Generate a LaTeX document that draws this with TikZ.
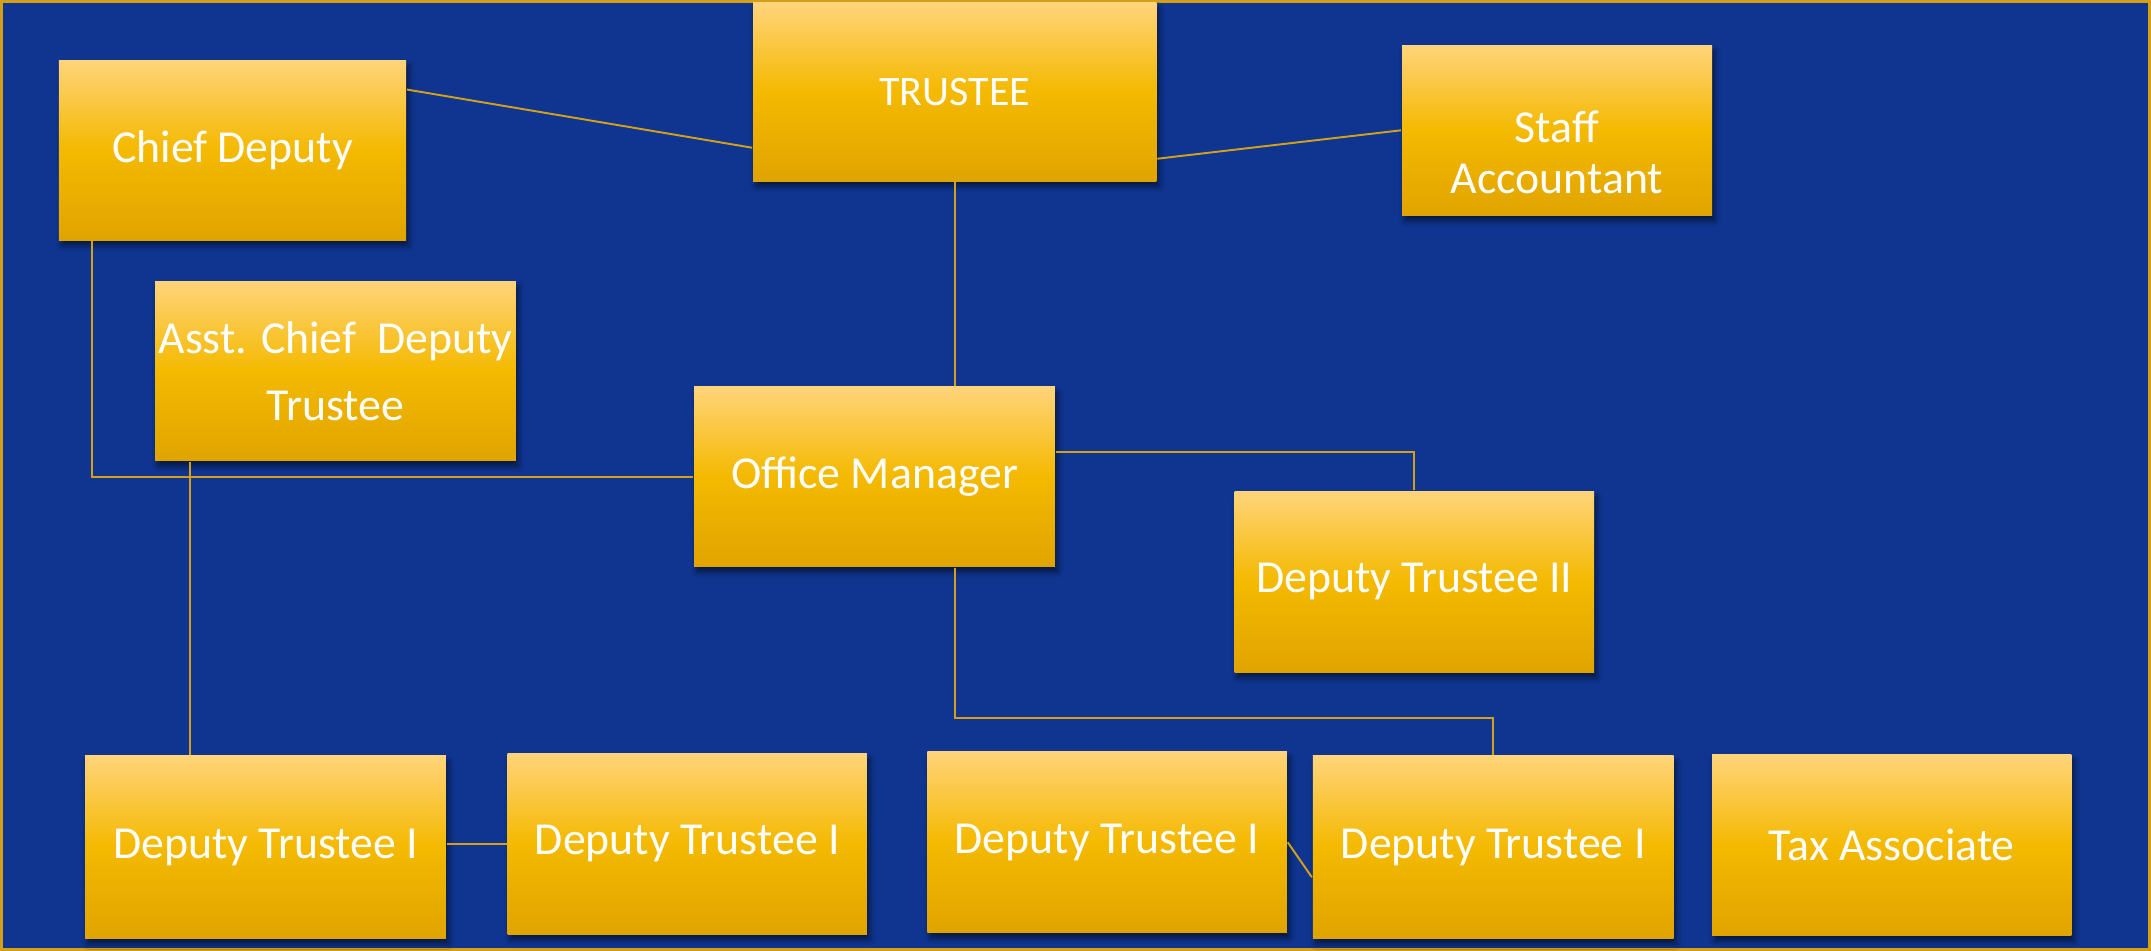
\documentclass[tikz,border=0pt]{standalone}
\usepackage{fontspec}
\setmainfont{Carlito}
\usetikzlibrary{calc,shadows.blur}
\definecolor{bgblue}{RGB}{15,53,144}
\definecolor{linegold}{RGB}{212,160,24}
\definecolor{boxtop}{RGB}{255,212,122}
\definecolor{boxmid}{RGB}{244,185,0}
\definecolor{boxbot}{RGB}{224,164,0}
\tikzset{
  post/.style={rectangle, inner sep=0pt, align=center, text=white,
    top color=boxtop, bottom color=boxbot, middle color=boxmid,
    font=\fontsize{9.5}{11}\selectfont,
    blur shadow={shadow xshift=0.2mm, shadow yshift=-0.4mm, shadow blur radius=0.4mm, shadow opacity=55}},
  link/.style={linegold, line width=0.4pt}
}
\begin{document}
\begin{tikzpicture}[x=0.1mm, y=-0.1mm]
  \useasboundingbox (0,0) rectangle (1568,693);
  \fill[bgblue] (0,0) rectangle (1568,693);
  \draw[linegold, line width=0.6pt] (1,1) rectangle (1567,692);

  % boxes
  \node[post, minimum width=29.4mm, minimum height=13mm, font=\fontsize{8.7}{10}\selectfont] (trustee) at (696,67) {TRUSTEE};
  \node[post, minimum width=25.3mm, minimum height=13.1mm] (chief) at (169.5,109.5) {Chief Deputy};
  \node[post, minimum width=22.6mm, minimum height=12.4mm, font=\fontsize{9.5}{10.5}\selectfont] (staff) at (1135,95)
    {\raisebox{-2.8mm}[0pt][0pt]{\begin{tabular}{@{}c@{}}Staff\\Accountant\end{tabular}}};
  \node[post, minimum width=26.3mm, minimum height=13.1mm, font=\fontsize{9.5}{13.9}\selectfont] (asst) at (244.5,270.5) {Asst. Chief\ \ Deputy\\Trustee};
  \node[post, minimum width=26.3mm, minimum height=13.1mm] (office) at (637.5,347.5) {Office Manager};
  \node[post, minimum width=26.2mm, minimum height=13.2mm] (dt2) at (1031,424) {Deputy Trustee II};
  \node[post, minimum width=26.3mm, minimum height=13.3mm] (dta) at (193.5,617.5) {Deputy Trustee I};
  \node[post, minimum width=26.2mm, minimum height=13.2mm] (dtb) at (501,615) {Deputy Trustee I};
  \node[post, minimum width=26.2mm, minimum height=13.2mm] (dtc) at (807,614) {Deputy Trustee I};
  \node[post, minimum width=26.3mm, minimum height=13.3mm] (dtd) at (1088.5,617.5) {Deputy Trustee I};
  \node[post, minimum width=26.2mm, minimum height=13.2mm] (tax) at (1379,616) {Tax Associate};

  % connectors
  \draw[link] ($(chief.north east)+(0,22)$) -- ($(trustee.south west)+(0,-25)$);
  \draw[link] ($(trustee.south east)+(0,-17)$) -- (staff.west);
  \draw[link] (trustee.south) -- (trustee.south |- office.north);
  \draw[link] ($(chief.south west)+(25,0)$) |- (office.west);
  \draw[link] ($(asst.south west)+(26,0)$) -- ($(dta.north west)+(77,0)$);
  \draw[link] ($(office.north east)+(0,48)$) -| (dt2.north);
  \draw[link] (office.south -| trustee.south) -- ++(0,110) -| (dtd.north);
  \draw[link] (dtb.west -| dta.east) -- (dtb.west);
  \draw[link] (dtc.east) -- ($(dtd.west)+(0,22)$);
\end{tikzpicture}
\end{document}
